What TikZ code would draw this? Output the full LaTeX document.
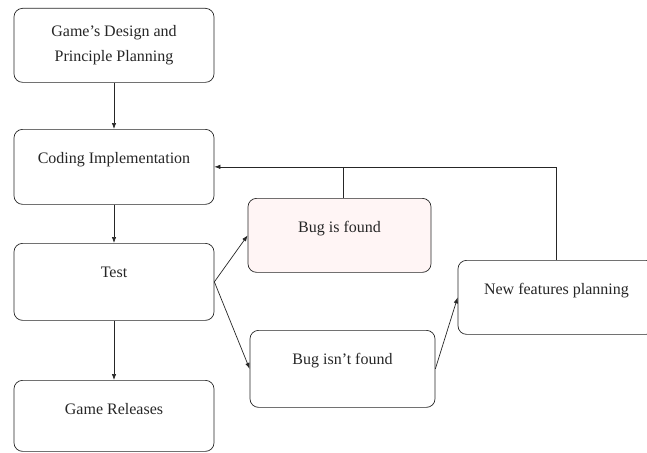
\documentclass[tikz,border=0pt]{standalone}
\usepackage{fontspec}
\setmainfont{Liberation Serif}
\usetikzlibrary{arrows.meta}
\begin{document}
\begin{tikzpicture}[x=1pt, y=-1pt, line width=0.7pt, black!85,
                    >={Latex[length=6pt,width=4.5pt]},
                    box/.style={
                        draw, rounded corners=3mm,
                        minimum width=200pt,
                        inner ysep=0pt,
                        anchor=north,
                        font=\fontsize{16}{25}\selectfont,
                        align=center},
                    toptext/.style={text height=34pt, text depth=#1}]
                        \useasboundingbox (0,0) rectangle (647,452);
                        \node [box, minimum height=74pt] (v0) at (114,8) {Game's Design and\\Principle Planning};
                        \node [box, toptext=41pt] (v1) at (114,129) {Coding Implementation};
                        \node [box, toptext=43pt] (v2) at (114,243) {Test};
                        \node [box, toptext=37pt] (v3) at (114,380) {Game Releases};
                        \node [box, toptext=40pt, minimum width=183pt, fill=red!4] (v4) at (339.5,198) {Bug is found};
                        \node [box, toptext=43pt, minimum width=185pt] (v5) at (342.5,330) {Bug isn't found};
                        \node [box, toptext=40pt, minimum width=197pt] (v6) at (556.5,260) {New features planning};
                        \coordinate (j) at ([xshift=4pt]v4.north |- v1.east);
                        \draw (v0) edge [->] (v1);
                        \draw (v1) edge [->] (v2);
                        \draw (v2) edge [->] (v3);
                        \draw (v2.east) edge [->] (v4.west);
                        \draw (v2.east) edge [->] (v5.west);
                        \draw (v5.east) edge [->] (v6.west);
                        \draw [->] (v6.north) |- (v1.east);
                        \draw (j) -- ([xshift=4pt]v4.north);
                \end{tikzpicture}
\end{document}
